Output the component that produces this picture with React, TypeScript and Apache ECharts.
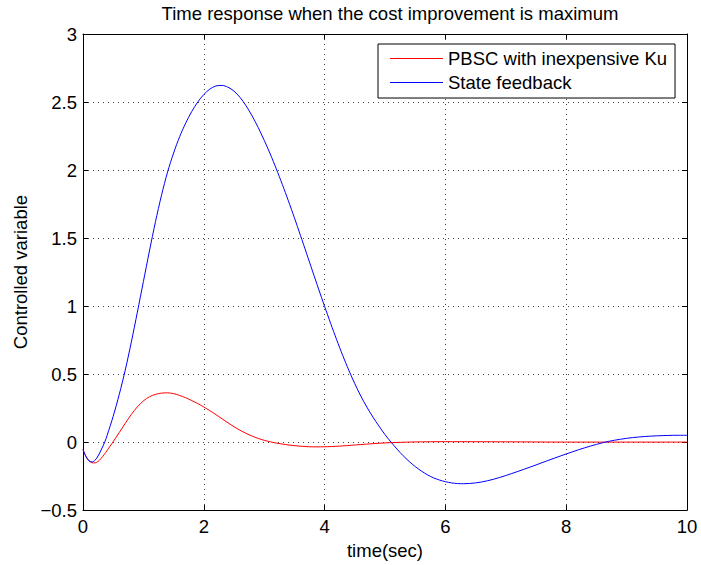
import React, { useEffect, useRef } from "react";
import * as echarts from "echarts";

const titleText = "Time response when the cost improvement is maximum";
const xName = "time(sec)";
const yName = "Controlled variable";
const seriesNames = ["PBSC with inexpensive Ku", "State feedback"];

const pbscT = [0, 0.05, 0.1, 0.15, 0.2, 0.25, 0.3, 0.35, 0.4, 0.45, 0.5, 0.6, 0.7, 0.8, 0.9, 1.0, 1.1, 1.2, 1.3, 1.4, 1.5, 1.6, 1.7, 1.8, 1.9, 2.0, 2.1, 2.2, 2.3, 2.4, 2.5, 2.6, 2.7, 2.8, 2.9, 3.0, 3.1, 3.2, 3.35, 3.54, 3.81, 4.05, 4.3, 4.6, 5.0, 5.5, 6.0, 7.0, 8.0, 9.0, 10.0];
const pbscV = [-0.055, -0.105, -0.137, -0.152, -0.153, -0.142, -0.12, -0.092, -0.061, -0.029, 0.003, 0.07, 0.138, 0.203, 0.259, 0.303, 0.333, 0.351, 0.36, 0.362, 0.356, 0.343, 0.326, 0.305, 0.283, 0.258, 0.231, 0.202, 0.172, 0.142, 0.113, 0.087, 0.064, 0.044, 0.027, 0.013, 0.002, -0.007, -0.018, -0.028, -0.035, -0.034, -0.028, -0.018, -0.006, 0.001, 0.003, 0.002, 0, 0, 0];

const sfT = [0, 0.05, 0.1, 0.15, 0.2, 0.25, 0.3, 0.36, 0.4, 0.5, 0.6, 0.7, 0.8, 0.9, 1.0, 1.1, 1.2, 1.3, 1.4, 1.5, 1.6, 1.7, 1.8, 1.9, 2.0, 2.1, 2.2, 2.3, 2.4, 2.5, 2.6, 2.7, 2.8, 2.9, 3.0, 3.1, 3.2, 3.3, 3.4, 3.5, 3.6, 3.7, 3.8, 3.9, 4.0, 4.1, 4.2, 4.3, 4.4, 4.5, 4.6, 4.7, 4.8, 4.9, 5.0, 5.1, 5.2, 5.3, 5.4, 5.5, 5.6, 5.7, 5.8, 5.9, 6.0, 6.1, 6.2, 6.3, 6.5, 6.7, 6.9, 7.1, 7.3, 7.5, 7.7, 7.9, 8.1, 8.3, 8.5, 8.7, 8.9, 9.1, 9.3, 9.5, 9.7, 9.85, 10.0];
const sfV = [-0.055, -0.108, -0.138, -0.146, -0.133, -0.102, -0.058, 0.0, 0.05, 0.19, 0.35, 0.53, 0.735, 0.955, 1.18, 1.405, 1.62, 1.815, 1.985, 2.125, 2.245, 2.345, 2.43, 2.5, 2.555, 2.595, 2.618, 2.622, 2.609, 2.58, 2.534, 2.472, 2.398, 2.313, 2.219, 2.118, 2.009, 1.894, 1.774, 1.649, 1.52, 1.389, 1.257, 1.126, 0.998, 0.873, 0.752, 0.637, 0.529, 0.429, 0.338, 0.257, 0.184, 0.118, 0.055, 0.0, -0.052, -0.1, -0.142, -0.18, -0.212, -0.24, -0.262, -0.279, -0.291, -0.3, -0.305, -0.306, -0.3, -0.284, -0.26, -0.231, -0.2, -0.168, -0.135, -0.103, -0.072, -0.043, -0.017, 0.005, 0.021, 0.033, 0.041, 0.046, 0.049, 0.05, 0.05];

const xTicks = { min: 0, max: 10, interval: 2 };
const yTicks = { min: -0.5, max: 3, interval: 0.5 };

const FONT = "Liberation Sans, Arial, Helvetica, sans-serif";
const FS = 18.5;
const LEGEND_ICON =
  "path://M0,0 L0.01,0 L0.01,0.01 Z M0,8.5 L53,8.5 L53,9.5 L0,9.5 Z M53,18 L52.99,18 L52.99,17.99 Z";

export default function App() {
  const ref = useRef<HTMLDivElement>(null);
  useEffect(() => {
    document.body.style.margin = "0";
    const chart = echarts.init(ref.current!, null, { renderer: "svg" });
    const grid = { left: 83, right: 14, top: 34, bottom: 52 };
    const splitLine = { show: true, lineStyle: { color: "#444", type: [1, 4] as any, width: 1 } };
    const axisLine = { show: true, onZero: false, lineStyle: { color: "#000", width: 1 } };
    const axisTick = { show: true, inside: true, length: 5, lineStyle: { color: "#000" } };
    const label = { color: "#000", fontFamily: FONT, fontSize: FS };
    chart.setOption({
      animation: false,
      backgroundColor: "#fff",
      title: {
        text: titleText,
        left: 385,
        top: -1,
        textAlign: "center",
        textStyle: { fontFamily: FONT, fontSize: FS, fontWeight: "normal", color: "#000" },
      },
      grid,
      legend: {
        orient: "vertical",
        left: 378,
        top: 44,
        padding: [5, 8, 6, 12],
        itemGap: 5,
        itemWidth: 53,
        itemHeight: 18,
        itemTextGap: 10,
        borderColor: "#000",
        borderWidth: 1,
        borderRadius: 0,
        backgroundColor: "#fff",
        textStyle: { fontFamily: FONT, fontSize: FS, color: "#000" },
        data: seriesNames.map((n) => ({ name: n, icon: LEGEND_ICON })),
      },
      xAxis: [
        {
          type: "value",
          ...xTicks,
          name: xName,
          nameLocation: "middle",
          nameGap: 23,
          nameTextStyle: { ...label },
          axisLine,
          axisTick,
          axisLabel: { ...label, margin: 7 },
          splitLine,
        },
        {
          type: "value",
          ...xTicks,
          position: "top",
          axisLine,
          axisTick,
          axisLabel: { show: false },
          splitLine: { show: false },
        },
      ],
      yAxis: [
        {
          type: "value",
          ...yTicks,
          name: yName,
          nameLocation: "middle",
          nameGap: 52,
          nameTextStyle: { ...label },
          axisLine,
          axisTick,
          axisLabel: {
            ...label,
            margin: 6,
            formatter: (v: number) => String(v).replace("-", "\u2212"),
          },
          splitLine,
        },
        {
          type: "value",
          ...yTicks,
          position: "right",
          axisLine,
          axisTick,
          axisLabel: { show: false },
          splitLine: { show: false },
        },
      ],
      series: [
        {
          name: seriesNames[0],
          type: "line",
          data: pbscT.map((t, i) => [t, pbscV[i]]),
          symbol: "none",
          smooth: 0.3,
          lineStyle: { color: "#ff0000", width: 1 },
          itemStyle: { color: "#ff0000" },
        },
        {
          name: seriesNames[1],
          type: "line",
          data: sfT.map((t, i) => [t, sfV[i]]),
          symbol: "none",
          smooth: 0.3,
          lineStyle: { color: "#0000ff", width: 1 },
          itemStyle: { color: "#0000ff" },
        },
      ],
    });
    return () => chart.dispose();
  }, []);
  return <div ref={ref} style={{ width: 701, height: 565 }} />;
}
